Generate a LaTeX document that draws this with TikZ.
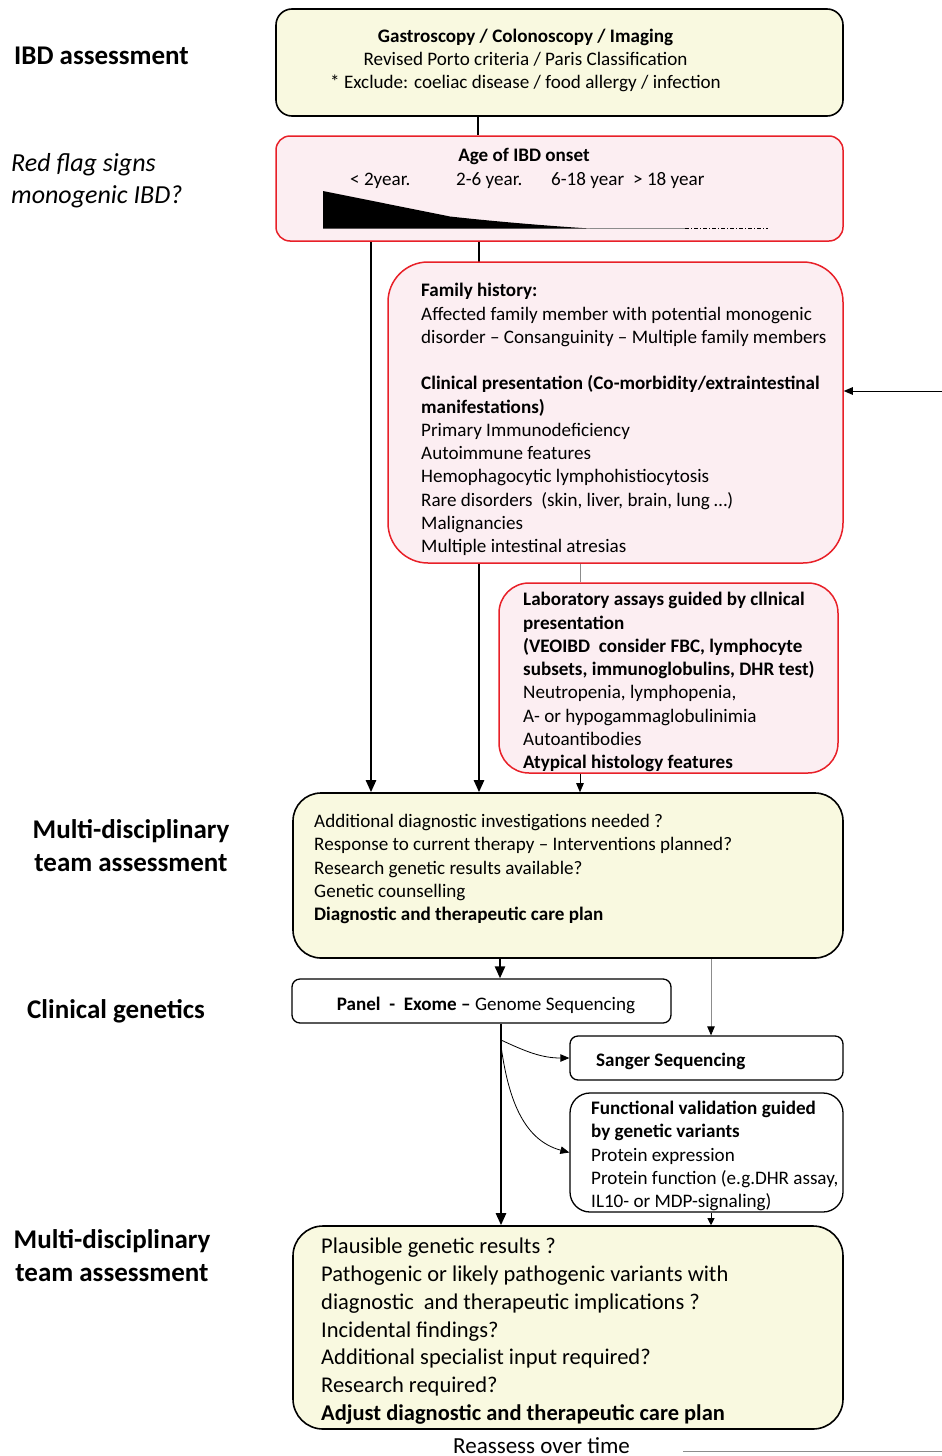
\documentclass[tikz,border=0pt]{standalone}
\usepackage{fontspec}
\setmainfont{Carlito}
\usepackage{tikz}
\usetikzlibrary{arrows.meta}
\definecolor{ivory}{RGB}{249,249,224}
\definecolor{blush}{RGB}{252,238,242}
\definecolor{flag}{RGB}{232,32,40}
\definecolor{wiregrey}{RGB}{140,140,140}
\tikzset{
  ybox/.style={draw=black,fill=ivory,line width=1.6pt,rounded corners=16pt},
  rbox/.style={draw=flag,fill=blush,line width=1.5pt,rounded corners=14pt},
  wbox/.style={draw=black,fill=white,line width=1.3pt,rounded corners=8pt},
  txt/.style={inner sep=0pt,anchor=base west,align=left,
              font=\fontsize{19.1}{23.25}\selectfont},
  bigtxt/.style={txt,font=\fontsize{22.5}{27.8}\selectfont},
  side/.style={inner sep=0pt,anchor=base,align=center,
               font=\fontsize{27}{33}\selectfont\bfseries},
  trunk/.style={-{Triangle[length=12pt,width=10pt]},line width=2.4pt},
  fine/.style={-{Triangle[length=9pt,width=7.5pt]},line width=0.8pt},
}

\begin{document}
\begin{tikzpicture}[x=1pt,y=1pt]
  \useasboundingbox (0,0) rectangle (942,-1456);

  % columns used by the vertical connectors
  \coordinate (colA) at (371,0);
  \coordinate (colB) at (479,0);
  \coordinate (colC) at (580,0);
  \coordinate (colD) at (501,0);
  \coordinate (colE) at (711,0);
  \coordinate (colF) at (478,0);
  \coordinate (colG) at (500,0);

  % left-hand stage labels (multi-line nodes sit on their last baseline)
  \node[side,anchor=base west] (lblIBD) at (14,-64) {IBD assessment};
  \node[side,anchor=base west,align=left,font=\fontsize{26}{32}\selectfont\itshape]
    (lblRed) at (11,-203) {Red flag signs\\monogenic IBD?};
  \node[side] (lblMdtA) at (131,-871) {Multi-disciplinary\\team assessment};
  \node[side,anchor=base west] (lblGen) at (27,-1018) {Clinical genetics};
  \node[side] (lblMdtB) at (112,-1281) {Multi-disciplinary\\team assessment};

  \node[ybox,minimum width=567pt,minimum height=107pt] (assess) at (559.5,-62.5) {};
  \node[txt,anchor=base,align=center] (assessTxt) at (525.5,-88.5)
    {\textbf{Gastroscopy / Colonoscopy / Imaging}\\
     Revised Porto criteria / Paris Classification\\
     * Exclude: coeliac disease / food allergy / infection};

  \node[rbox,minimum width=567pt,minimum height=105pt] (onset) at (559.5,-188.5) {};
  \draw[line width=2.4pt] (assess.south -| colF) -- (onset.north -| colF);
  \node[txt,anchor=base] (onsetTxt) at (524,-161.5) {\textbf{Age of IBD onset}};
  \foreach \ax/\at [count=\i] in {350/{< 2year.},456/{2-6 year.},551/{6-18 year},633/{> 18 year}}
    \node[txt] (age\i) at (\ax,-185.5) {\at};
  \fill (323,-191) -- (450,-216.5) .. controls (500,-222) and (550,-226) .. (590,-228.5)
    -- (323,-228.5) -- cycle;
  \draw[wiregrey,line width=1pt] (590,-228) -- (685,-228);
  \draw[line width=0.7pt,dash pattern=on 4pt off 2pt on 1pt off 2pt] (685,-228) -- (768,-228);

  \node[ybox,rounded corners=28pt,minimum width=550pt,minimum height=165pt]
    (mdtA) at (568,-875.5) {};
  \node[txt] (mdtATxt) at (314,-920.5)
    {Additional diagnostic investigations needed ?\\
     Response to current therapy – Interventions planned?\\
     Research genetic results available?\\
     Genetic counselling\\
     \textbf{Diagnostic and therapeutic care plan}};

  % the two long arrows go first, the family box covers the second one
  \draw[trunk] (onset.south -| colA) -- (mdtA.north -| colA);
  \draw[trunk] (onset.south -| colB) -- (mdtA.north -| colB);

  \node[rbox,rounded corners=40pt,minimum width=455pt,minimum height=301pt]
    (family) at (615.5,-412.5) {};
  \node[txt] (familyTxt) at (421,-552.5)
    {\textbf{Family history:}\\
     Affected family member with potential monogenic\\
     disorder – Consanguinity – Multiple family members\\[23.25pt]
     \textbf{Clinical presentation (Co-morbidity/extraintestinal}\\
     \textbf{manifestations)}\\
     Primary Immunodeficiency\\
     Autoimmune features\\
     Hemophagocytic lymphohistiocytosis\\
     Rare disorders\ \ (skin, liver, brain, lung …)\\
     Malignancies\\
     Multiple intestinal atresias};
  \coordinate (feed) at (942,-391);
  \draw[fine,line width=1pt] (feed) -- (feed -| family.east);

  \node[rbox,rounded corners=30pt,minimum width=339pt,minimum height=190pt]
    (lab) at (668.5,-678) {};
  \node[txt] (labTxt) at (523,-768.5)
    {\textbf{Laboratory assays guided by cllnical}\\
     \textbf{presentation}\\
     \textbf{(VEOIBD\ \ consider FBC, lymphocyte}\\
     \textbf{subsets, immunoglobulins, DHR test)}\\
     Neutropenia, lymphopenia,\\
     A- or hypogammaglobulinimia\\
     Autoantibodies\\
     \textbf{Atypical histology features}};
  \draw[wiregrey,line width=1pt] (family.south -| colC) -- (lab.north -| colC);
  \draw[fine] (lab.south -| colC) -- (mdtA.north -| colC);

  \node[wbox,minimum width=379pt,minimum height=44pt] (seq) at (481.5,-1001) {};
  \node[txt,anchor=base] (seqTxt) at (486,-1010.5)
    {\textbf{Panel\ \ -\ \ Exome –} Genome Sequencing};
  \node[wbox,minimum width=273pt,minimum height=44pt] (sanger) at (706.5,-1058) {};
  \node[txt] (sangerTxt) at (596,-1066.5) {\textbf{Sanger Sequencing}};
  \node[wbox,rounded corners=20pt,minimum width=273pt,minimum height=119pt]
    (func) at (706.5,-1152.5) {};
  \node[txt] (funcTxt) at (591,-1207.5)
    {\textbf{Functional validation guided}\\
     \textbf{by genetic variants}\\
     Protein expression\\
     Protein function (e.g.DHR assay,\\
     IL10- or MDP-signaling)};

  \node[ybox,rounded corners=30pt,minimum width=550pt,minimum height=203pt]
    (mdtB) at (568,-1327.5) {};
  \node[bigtxt] (mdtBTxt) at (321,-1420.5)
    {Plausible genetic results ?\\
     Pathogenic or likely pathogenic variants with\\
     diagnostic\ \ and therapeutic implications ?\\
     Incidental findings?\\
     Additional specialist input required?\\
     Research required?\\
     \textbf{Adjust diagnostic and therapeutic care plan}};

  \draw[trunk] (mdtA.south -| colG) -- (seq.north -| colG);
  \draw[fine,draw=wiregrey,-{Triangle[length=9pt,width=7.5pt,color=black]}]
    (mdtA.south -| colE) -- (sanger.north -| colE);
  \draw[trunk] (seq.south -| colD) -- (mdtB.north -| colD);
  \coordinate (splitA) at (501,-1040);
  \coordinate (splitB) at (501,-1046);
  \draw[fine] (splitA) to[out=-25,in=180] (sanger.west);
  \draw[fine] (splitB) to[out=-82,in=165] (func.west);
  \draw[fine,-{Triangle[length=7pt,width=7pt]}] (func.south -| colE) -- (mdtB.north -| colE);

  \node[txt,font=\fontsize{23}{28}\selectfont] (reassess) at (453,-1453) {Reassess over time};
  \coordinate (loopA) at (683,-1451);
  \coordinate (loopB) at (942,-1451);
  \draw[wiregrey,line width=1pt] (loopA) -- (loopB);
\end{tikzpicture}
\end{document}
